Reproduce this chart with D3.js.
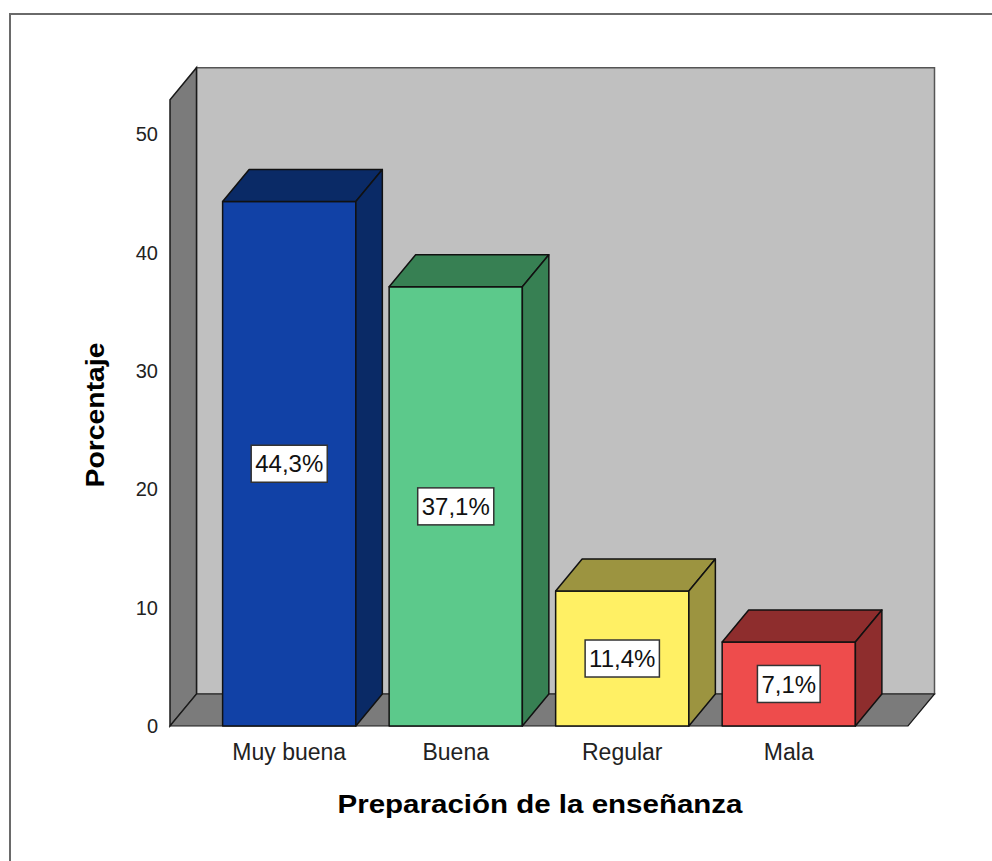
<!DOCTYPE html>
<html>
<head>
<meta charset="utf-8">
<script src="https://cdn.jsdelivr.net/npm/d3@7"></script>
<style>
  body { margin: 0; background: #fff; }
  svg { display: block; font-family: Arial, "Liberation Sans", sans-serif; }
</style>
</head>
<body>
<div id="chart"></div>
<script>
// data
var categories = ["Muy buena", "Buena", "Regular", "Mala"];
var values = [44.3, 37.1, 11.4, 7.1];
var valueLabels = ["44,3%", "37,1%", "11,4%", "7,1%"];
var yTicks = [0, 10, 20, 30, 40, 50];
var frontColors = ["#1141a6", "#5cc98b", "#fff064", "#ee4c4c"];
var darkColors = ["#0a2a66", "#378053", "#9c9440", "#8e2d2d"];

var width = 992, height = 861;
var depthX = 26.5, depthY = 32; // 3d offset
var yMax = 52.9;

var svg = d3.select("#chart").append("svg")
    .attr("width", width)
    .attr("height", height);

// outer frame (only top and left edges visible)
svg.append("path")
    .attr("d", "M10," + height + "V14H" + width)
    .style("fill", "none")
    .style("stroke", "#6a6a6a")
    .style("stroke-width", 2);

var x = d3.scaleBand()
    .domain(categories)
    .range([170, 908])
    .paddingInner(0.2)
    .paddingOuter(0.316);

var y = d3.scaleLinear()
    .domain([0, yMax])
    .range([726, 726 - 11.84 * yMax]);

var x0 = x.range()[0], x1 = x.range()[1];
var yb = y(0), yt = y(yMax);

function pts(arr) {
    return arr.map(function (p) { return p[0] + "," + p[1]; }).join(" ");
}

// back wall
svg.append("polygon")
    .attr("points", pts([[x0 + depthX, yt - depthY], [x1 + depthX, yt - depthY], [x1 + depthX, yb - depthY], [x0 + depthX, yb - depthY]]))
    .style("fill", "#c0c0c0")
    .style("stroke", "#555")
    .style("stroke-width", 1.5);

// left wall
svg.append("polygon")
    .attr("points", pts([[x0, yb], [x0, yt], [x0 + depthX, yt - depthY], [x0 + depthX, yb - depthY]]))
    .style("fill", "#7b7b7b")
    .style("stroke", "#1a1a1a")
    .style("stroke-width", 1.5);

// floor
svg.append("polygon")
    .attr("points", pts([[x0, yb], [x1, yb], [x1 + depthX, yb - depthY], [x0 + depthX, yb - depthY]]))
    .style("fill", "#7b7b7b")
    .style("stroke", "#1a1a1a")
    .style("stroke-width", 1.2);

// y tick labels
svg.append("g").selectAll("text")
    .data(yTicks)
    .enter().append("text")
    .attr("x", 158)
    .attr("y", function (d) { return y(d); })
    .attr("dy", "0.36em")
    .attr("text-anchor", "end")
    .style("font-size", "20px")
    .style("fill", "#222")
    .text(function (d) { return d; });

// bars
var bars = svg.append("g").selectAll("g")
    .data(values)
    .enter().append("g");

bars.append("polygon") // front
    .attr("points", function (d, i) {
        var bx = x(categories[i]), bw = x.bandwidth(), top = y(d);
        return pts([[bx, yb], [bx, top], [bx + bw, top], [bx + bw, yb]]);
    })
    .style("fill", function (d, i) { return frontColors[i]; });

bars.append("polygon") // top
    .attr("points", function (d, i) {
        var bx = x(categories[i]), bw = x.bandwidth(), top = y(d);
        return pts([[bx, top], [bx + depthX, top - depthY], [bx + bw + depthX, top - depthY], [bx + bw, top]]);
    })
    .style("fill", function (d, i) { return darkColors[i]; });

bars.append("polygon") // side
    .attr("points", function (d, i) {
        var bx = x(categories[i]), bw = x.bandwidth(), top = y(d);
        return pts([[bx + bw, yb], [bx + bw, top], [bx + bw + depthX, top - depthY], [bx + bw + depthX, yb - depthY]]);
    })
    .style("fill", function (d, i) { return darkColors[i]; });

bars.selectAll("polygon")
    .style("stroke", "#111")
    .style("stroke-width", 1.5)
    .style("stroke-linejoin", "round");

// value labels
bars.each(function (d, i) {
    var g = d3.select(this);
    var cx = x(categories[i]) + x.bandwidth() / 2;
    var cy = (y(d) + yb) / 2;
    var t = g.append("text")
        .attr("x", cx)
        .attr("y", cy)
        .attr("dy", "0.36em")
        .attr("text-anchor", "middle")
        .style("font-size", "24px")
        .style("fill", "#111")
        .text(valueLabels[i]);
    var bb = t.node().getBBox();
    g.insert("rect", "text")
        .attr("x", cx - bb.width / 2 - 4)
        .attr("y", cy - 18.5)
        .attr("width", bb.width + 8)
        .attr("height", 37)
        .style("fill", "#fff")
        .style("stroke", "#333")
        .style("stroke-width", 1.5);
});

// category labels
svg.append("g").selectAll("text")
    .data(categories)
    .enter().append("text")
    .attr("x", function (d) { return x(d) + x.bandwidth() / 2; })
    .attr("y", 760)
    .attr("text-anchor", "middle")
    .style("font-size", "23px")
    .style("fill", "#222")
    .text(function (d) { return d; });

// axis titles
svg.append("text")
    .attr("x", 540)
    .attr("y", 813)
    .attr("text-anchor", "middle")
    .attr("textLength", 405)
    .attr("lengthAdjust", "spacingAndGlyphs")
    .style("font-size", "26px")
    .style("font-weight", "bold")
    .style("fill", "#000")
    .text("Preparación de la enseñanza");

svg.append("text")
    .attr("transform", "translate(104,415) rotate(-90)")
    .attr("text-anchor", "middle")
    .attr("textLength", 145)
    .attr("lengthAdjust", "spacingAndGlyphs")
    .style("font-size", "26px")
    .style("font-weight", "bold")
    .style("fill", "#000")
    .text("Porcentaje");
</script>
</body>
</html>
